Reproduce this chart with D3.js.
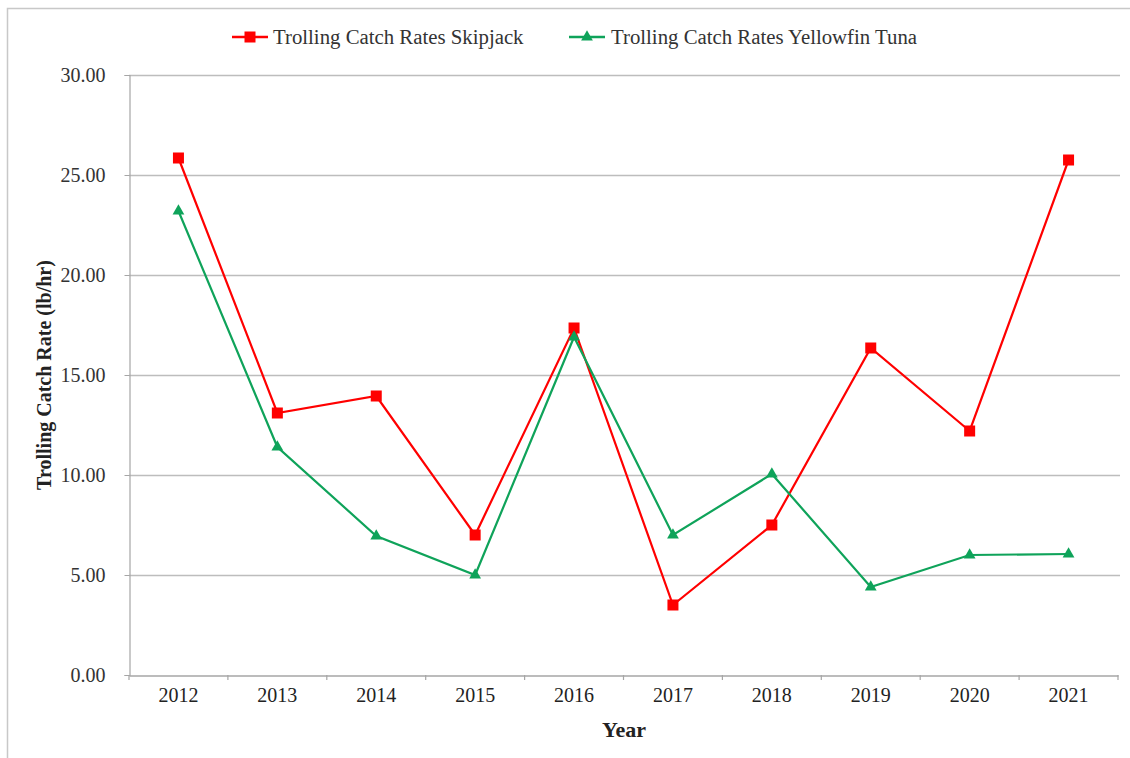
<!DOCTYPE html>
<html><head><meta charset="utf-8">
<script src="https://cdn.jsdelivr.net/npm/d3@7/dist/d3.min.js"></script>
<style>body{margin:0;background:#fff;}svg{display:block;font-family:"Liberation Serif","Times New Roman",serif;}</style>
</head><body>
<svg id="c" width="1130" height="758"></svg>
<script>
const years = ["2012","2013","2014","2015","2016","2017","2018","2019","2020","2021"];
const skipjack = [25.85, 13.1, 13.95, 7.0, 17.35, 3.5, 7.5, 16.35, 12.2, 25.75];
const yellowfin = [23.2, 11.4, 6.95, 5.0, 16.9, 7.0, 10.05, 4.4, 6.0, 6.05];
const yTicks = [0, 5, 10, 15, 20, 25, 30];
const seriesNames = ["Trolling Catch Rates Skipjack", "Trolling Catch Rates Yellowfin Tuna"];
const colors = ["#ff0000", "#0fa35a"];

const svg = d3.select("#c");
const m = {l:129, r:1118, t:75, b:675};
// chart border
svg.append("rect").attr("x",7.5).attr("y",8.5).attr("width",1140).attr("height",770)
  .attr("fill","none").attr("stroke","#c8c8c8").attr("stroke-width",1.5);

const x = d3.scaleBand().domain(years).range([m.l, m.r]);
const y = d3.scaleLinear().domain([0,30]).range([m.b, m.t]);

// gridlines
svg.append("g").selectAll("line").data(yTicks.filter(d=>d>0)).join("line")
  .attr("x1",m.l).attr("x2",m.r+2).attr("y1",d=>y(d)+0.5).attr("y2",d=>y(d)+0.5)
  .attr("stroke","#bdbdbd").attr("stroke-width",1.3);

// y axis
const ya = svg.append("g").attr("transform",`translate(${m.l+0.5},0)`)
  .call(d3.axisLeft(y).tickValues(yTicks).tickFormat(d3.format(".2f")).tickSize(5).tickPadding(19));
ya.select(".domain").attr("stroke","#a6a6a6").attr("stroke-width",1.2);
ya.selectAll(".tick line").attr("stroke","#a6a6a6");
ya.selectAll("text").attr("font-size",20).attr("fill","#333").attr("font-family","Liberation Serif");

// x axis
const xa = svg.append("g").attr("transform",`translate(0,${m.b+0.5})`)
  .call(d3.axisBottom(x).tickSize(0).tickPadding(12));
xa.select(".domain").attr("stroke","#a6a6a6").attr("stroke-width",1.5);
xa.selectAll("text").attr("font-size",20).attr("fill","#222").attr("font-family","Liberation Serif");
// category boundary ticks
svg.append("g").selectAll("line").data(d3.range(years.length+1)).join("line")
  .attr("x1",i=>m.l + i*x.step()).attr("x2",i=>m.l + i*x.step())
  .attr("y1",m.b).attr("y2",m.b+5).attr("stroke","#a6a6a6").attr("stroke-width",1.2);

// titles
svg.append("text").attr("x",624).attr("y",737).attr("text-anchor","middle")
  .attr("font-size",22).attr("font-weight","bold").attr("fill","#222").text("Year");
svg.append("text").attr("transform","translate(51,375) rotate(-90)").attr("text-anchor","middle")
  .attr("font-size",20).attr("font-weight","bold").attr("fill","#222").text("Trolling Catch Rate (lb/hr)");

const cx = d => x(d) + x.bandwidth()/2;
const line = d3.line().x(d=>cx(d.year)).y(d=>y(d.v));
const data = [skipjack, yellowfin].map(arr => years.map((yr,i)=>({year:yr, v:arr[i]})));

const tri = d3.symbol().type(d3.symbolTriangle).size(60);
data.forEach((s,k)=>{
  svg.append("path").datum(s).attr("d",line).attr("fill","none")
    .attr("stroke",colors[k]).attr("stroke-width",2.2);
  if(k===0){
    svg.append("g").selectAll("rect").data(s).join("rect")
      .attr("x",d=>cx(d.year)-5.5).attr("y",d=>y(d.v)-5.5).attr("width",11).attr("height",11)
      .attr("fill",colors[k]);
  } else {
    svg.append("g").selectAll("path").data(s).join("path")
      .attr("d",tri).attr("transform",d=>`translate(${cx(d.year)},${y(d.v)})`)
      .attr("fill",colors[k]);
  }
});

// legend
const lg = svg.append("g");
const legItems = [{x0:232,x1:268,tx:273},{x0:569,x1:605,tx:611}];
legItems.forEach((L,k)=>{
  lg.append("line").attr("x1",L.x0).attr("x2",L.x1).attr("y1",37).attr("y2",37)
    .attr("stroke",colors[k]).attr("stroke-width",2.5);
  const mx=(L.x0+L.x1)/2;
  if(k===0) lg.append("rect").attr("x",mx-5.5).attr("y",31.5).attr("width",11).attr("height",11).attr("fill",colors[k]);
  else lg.append("path").attr("d",tri).attr("transform",`translate(${mx},37)`).attr("fill",colors[k]);
  lg.append("text").attr("x",L.tx).attr("y",44).attr("font-size",20.8).attr("fill","#333").text(seriesNames[k]);
});
</script>
</body></html>
